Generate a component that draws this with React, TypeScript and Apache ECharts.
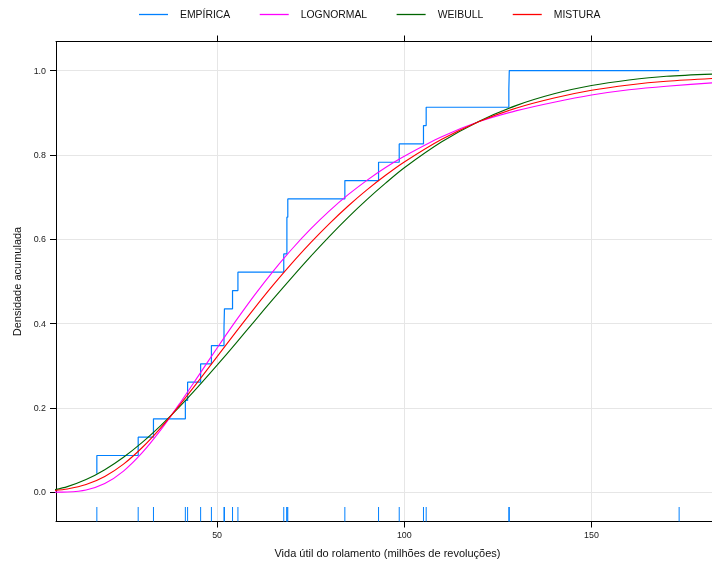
import React, { useEffect, useRef } from "react";
import * as echarts from "echarts";

// Bearing lifetimes (millions of revolutions), read from the rug / ECDF steps
const LIFETIMES = [
  17.88, 28.92, 33.0, 41.52, 42.12, 45.6, 48.48, 51.84, 51.96, 54.12, 55.56,
  67.8, 68.64, 68.64, 68.88, 84.12, 93.12, 98.64, 105.12, 105.84, 127.92,
  128.04, 173.4,
];

const CURVE_X = [
  6.5, 10, 15, 20, 25, 30, 35, 40, 45, 50, 55, 60, 65, 70, 75, 80, 85, 90, 95,
  100, 110, 120, 130, 140, 150, 160, 170, 185,
];
const LOGNORMAL = [
  0.0, 0.0005, 0.0053, 0.0205, 0.05, 0.0936, 0.1482, 0.2104, 0.2759, 0.342,
  0.4063, 0.4675, 0.5245, 0.5768, 0.6244, 0.6672, 0.7056, 0.7397, 0.7701,
  0.7969, 0.843, 0.879, 0.905, 0.925, 0.942, 0.9545, 0.963, 0.9725,
];
const WEIBULL = [
  0.0055, 0.0131, 0.0299, 0.0533, 0.0829, 0.1181, 0.1584, 0.2028, 0.2508,
  0.3011, 0.353, 0.4058, 0.4585, 0.5097, 0.5594, 0.607, 0.652, 0.694, 0.733,
  0.7695, 0.831, 0.88, 0.9175, 0.945, 0.9645, 0.9776, 0.9864, 0.9925,
];
const MISTURA = [
  0.0038, 0.0074, 0.018, 0.0372, 0.0665, 0.1059, 0.1533, 0.2066, 0.2634,
  0.3216, 0.3797, 0.4367, 0.4915, 0.5433, 0.5919, 0.6371, 0.6788, 0.7169,
  0.7516, 0.7832, 0.837, 0.8795, 0.9113, 0.935, 0.9533, 0.966, 0.9747, 0.9825,
];

const SERIES_NAMES = ["EMPÍRICA", "LOGNORMAL", "WEIBULL", "MISTURA"];
const SERIES_COLORS = ["#0080ff", "#ff00ff", "#006400", "#ff0000"];
const X_TICKS = [50, 100, 150];
const Y_TICKS = [0, 0.2, 0.4, 0.6, 0.8, 1.0];
const X_TITLE = "Vida útil do rolamento (milhões de revoluções)";
const Y_TITLE = "Densidade acumulada";

const FONT = '"Liberation Sans", Arial, Helvetica, sans-serif';
const X_MIN = 6.97;
const X_MAX = 184.05;
const Y_MIN = -0.0696;
const Y_MAX = 1.069;

export default function App() {
  const ref = useRef<HTMLDivElement>(null);

  useEffect(() => {
    if (!ref.current) return;
    const chart = echarts.init(ref.current, undefined, { renderer: "svg" });

    const n = LIFETIMES.length;
    const ecdf = LIFETIMES.map((v, i) => [v, (i + 1) / n]);
    const curve = (ys: number[]) => CURVE_X.map((x, i) => [x, ys[i]]);

    const axisLineStyle = { color: "#000", width: 1 };

    const option: any = {
      animation: false,
      textStyle: { fontFamily: FONT },
      legend: {
        data: SERIES_NAMES,
        top: 4.5,
        left: 134,
        icon: "rect",
        itemWidth: 29,
        itemHeight: 1.3,
        itemGap: 29.5,
        selectedMode: false,
        textStyle: {
          fontFamily: FONT,
          fontSize: 10.4,
          color: "#111",
          padding: [0, 0, 0, 7],
        },
      },
      grid: {
        left: 56,
        right: -7,
        top: 41.5,
        bottom: 43.5,
        containLabel: false,
        outerBoundsMode: "none",
      },
      xAxis: [
        {
          type: "value",
          position: "bottom",
          min: X_MIN,
          max: X_MAX,
          name: X_TITLE,
          nameLocation: "middle",
          nameGap: 26,
          nameTextStyle: { fontFamily: FONT, fontSize: 11, color: "#111" },
          axisLine: { show: true, onZero: false, lineStyle: axisLineStyle },
          axisTick: {
            show: true,
            inside: false,
            length: 6,
            customValues: X_TICKS,
            lineStyle: axisLineStyle,
          },
          axisLabel: {
            customValues: X_TICKS,
            fontFamily: FONT,
            fontSize: 8.9,
            color: "#1a1a1a",
            margin: 9,
          },
          splitLine: { show: true, lineStyle: { color: "#e6e6e6", width: 1 } },
        },
        {
          type: "value",
          position: "top",
          min: X_MIN,
          max: X_MAX,
          axisLine: { show: true, onZero: false, lineStyle: axisLineStyle },
          axisTick: {
            show: true,
            inside: false,
            length: 6,
            customValues: X_TICKS,
            lineStyle: axisLineStyle,
          },
          axisLabel: { show: false },
          splitLine: { show: false },
        },
      ],
      yAxis: {
        type: "value",
        min: Y_MIN,
        max: Y_MAX,
        name: Y_TITLE,
        nameLocation: "middle",
        nameGap: 32,
        nameRotate: 90,
        nameTextStyle: { fontFamily: FONT, fontSize: 11, color: "#111" },
        axisLine: { show: true, onZero: false, lineStyle: axisLineStyle },
        axisTick: {
          show: true,
          inside: false,
          length: 6,
          customValues: Y_TICKS,
          lineStyle: axisLineStyle,
        },
        axisLabel: {
          customValues: Y_TICKS,
          formatter: (v: number) => v.toFixed(1),
          fontFamily: FONT,
          fontSize: 8.9,
          color: "#1a1a1a",
          margin: 10,
        },
        splitLine: { show: true, lineStyle: { color: "#e6e6e6", width: 1 } },
      },
      series: [
        {
          name: SERIES_NAMES[0],
          type: "line",
          data: ecdf,
          step: "start",
          showSymbol: false,
          color: SERIES_COLORS[0],
          lineStyle: { width: 1.2, color: SERIES_COLORS[0] },
          z: 2,
        },
        {
          name: SERIES_NAMES[1],
          type: "line",
          data: curve(LOGNORMAL),
          smooth: 0.3,
          showSymbol: false,
          color: SERIES_COLORS[1],
          lineStyle: { width: 1.1, color: SERIES_COLORS[1] },
          z: 3,
        },
        {
          name: SERIES_NAMES[2],
          type: "line",
          data: curve(WEIBULL),
          smooth: 0.3,
          showSymbol: false,
          color: SERIES_COLORS[2],
          lineStyle: { width: 1.1, color: SERIES_COLORS[2] },
          z: 4,
        },
        {
          name: SERIES_NAMES[3],
          type: "line",
          data: curve(MISTURA),
          smooth: 0.3,
          showSymbol: false,
          color: SERIES_COLORS[3],
          lineStyle: { width: 1.1, color: SERIES_COLORS[3] },
          z: 5,
        },
        {
          name: "rug",
          type: "custom",
          data: LIFETIMES.map((v) => [v, 0]),
          encode: { x: 0, y: 1 },
          renderItem: (params: any, api: any) => {
            const p = api.coord([api.value(0), 0]);
            const cs = params.coordSys;
            const yb = cs.y + cs.height;
            return {
              type: "line",
              shape: { x1: p[0], y1: yb - 14.5, x2: p[0], y2: yb },
              style: { stroke: SERIES_COLORS[0], lineWidth: 1 },
            };
          },
          z: 2,
        },
      ],
    };

    chart.setOption(option);
    return () => chart.dispose();
  }, []);

  return (
    <div
      ref={ref}
      style={{ position: "fixed", left: 0, top: 0, width: 712, height: 565 }}
    />
  );
}
